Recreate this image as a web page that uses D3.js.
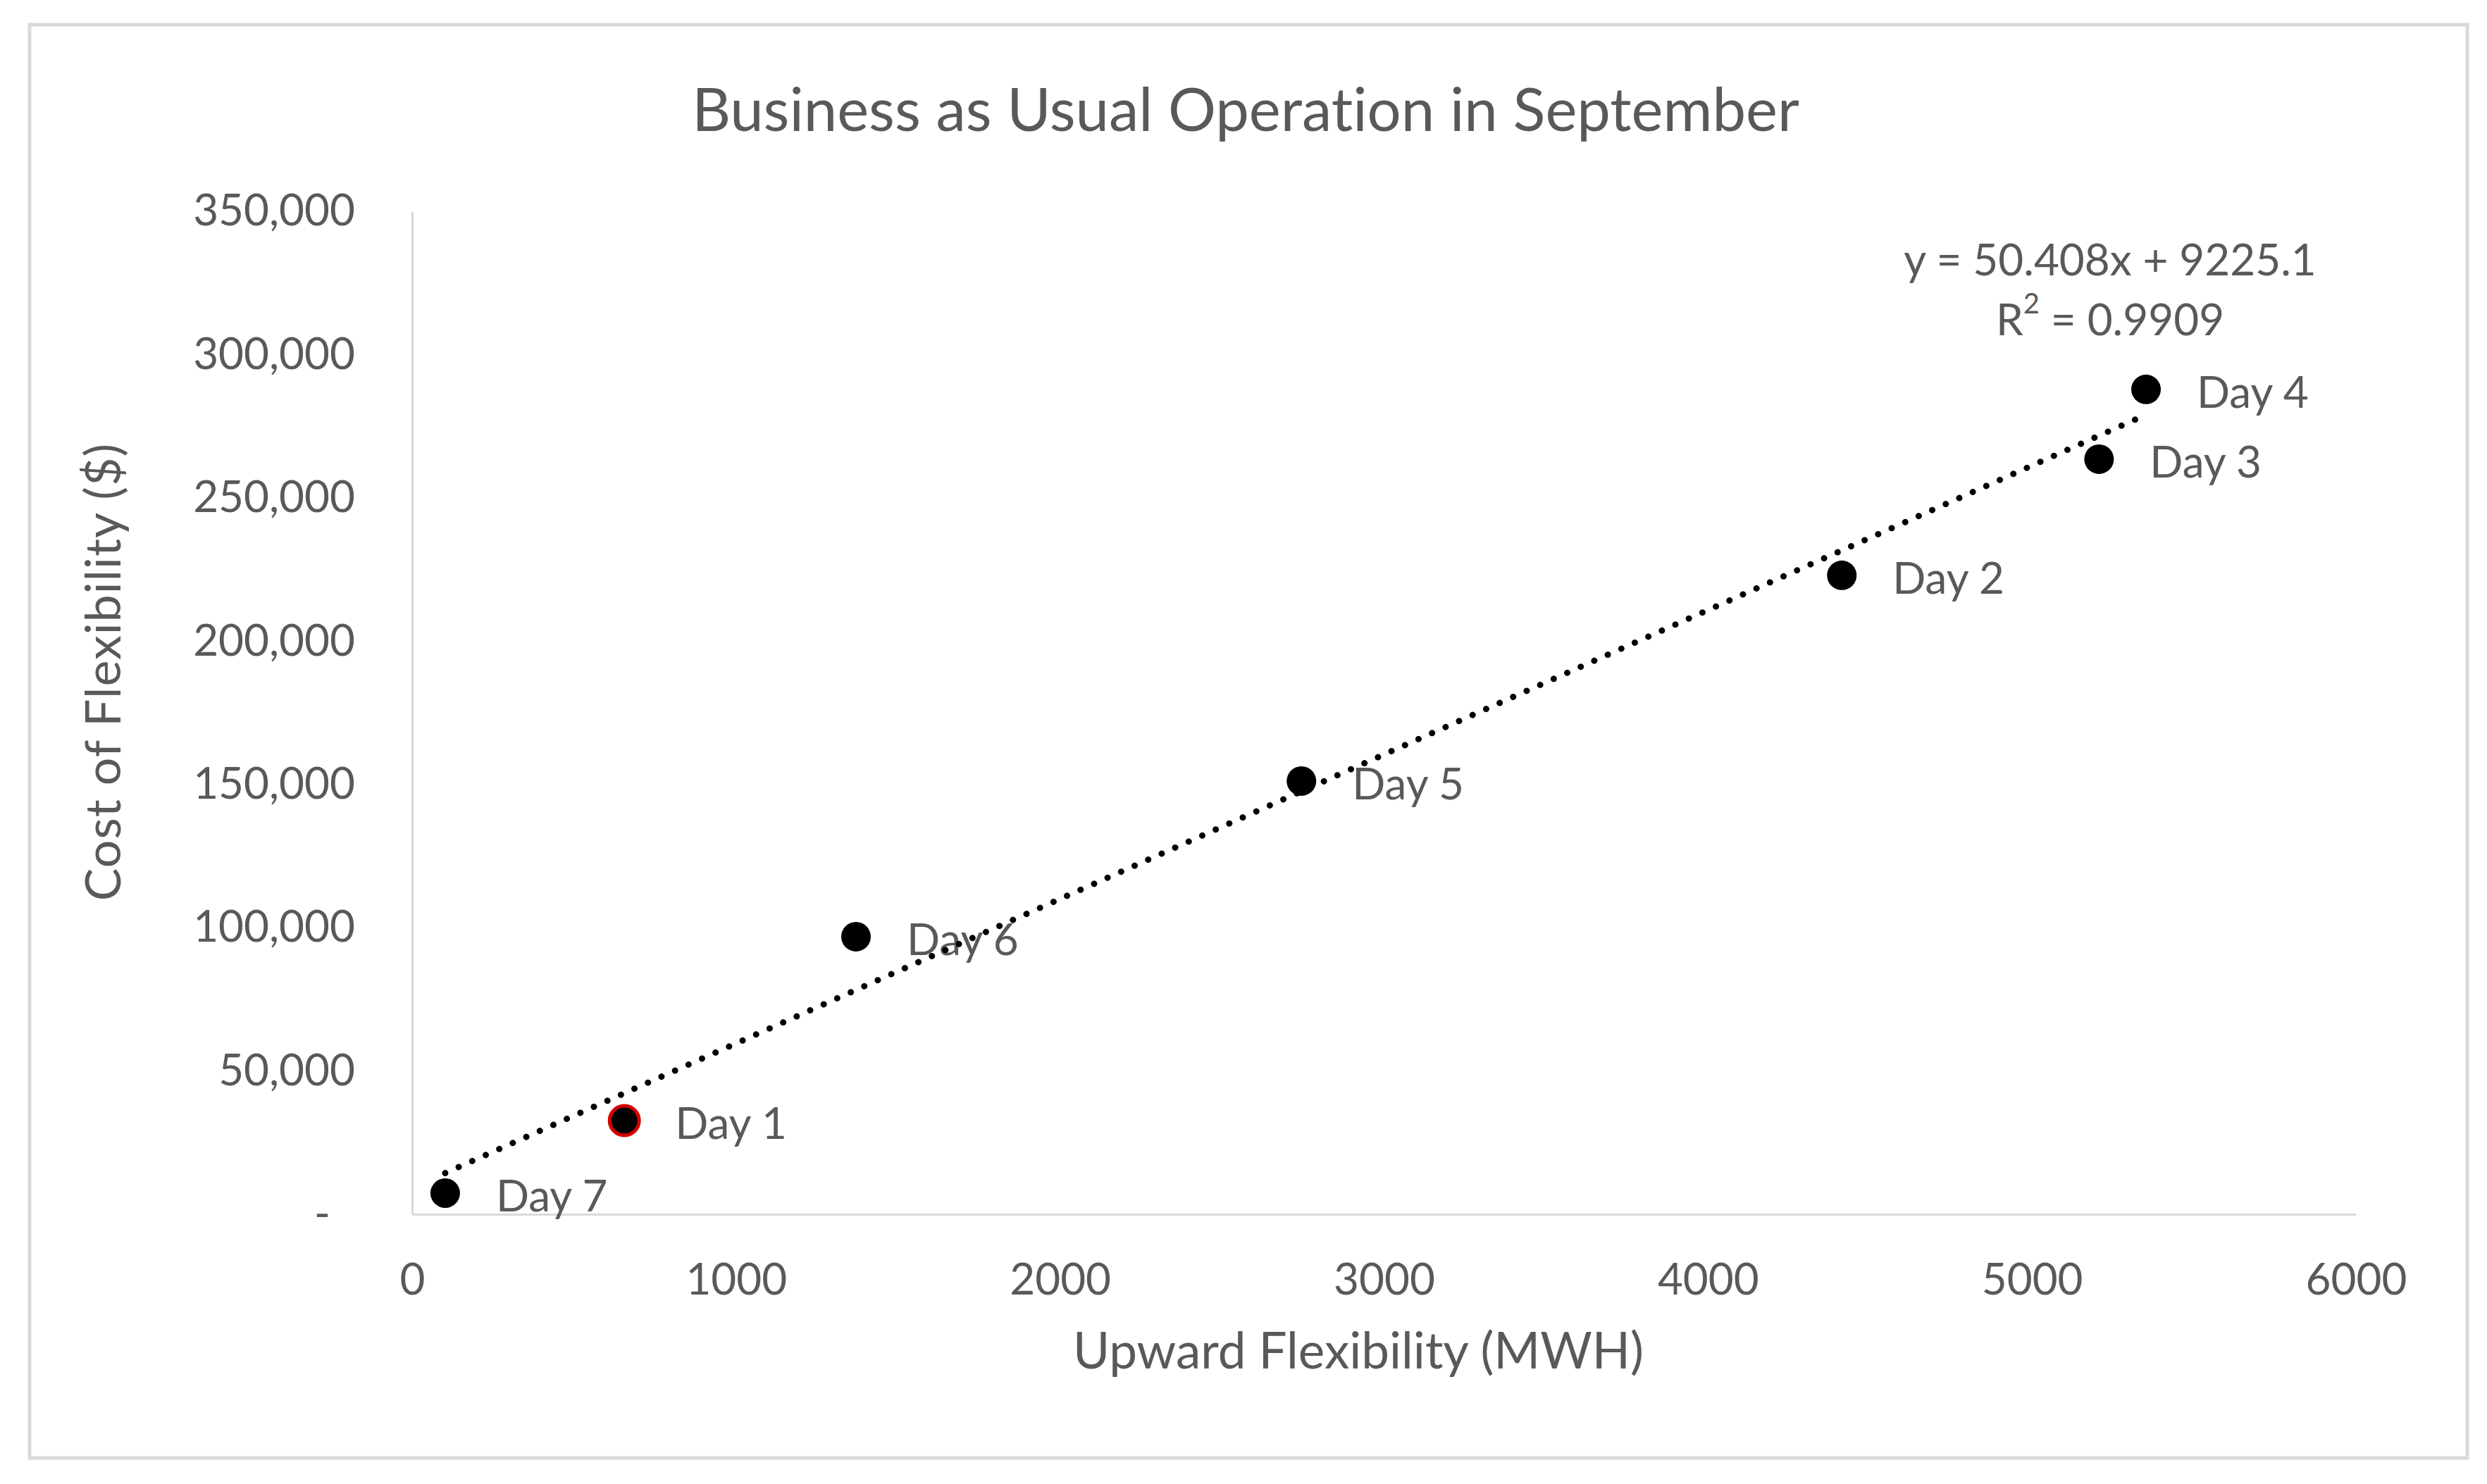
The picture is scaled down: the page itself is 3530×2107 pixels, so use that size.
<!DOCTYPE html>
<html>
<head>
<meta charset="utf-8">
<script src="https://cdn.jsdelivr.net/npm/d3@7"></script>
<style>
  html, body { margin: 0; padding: 0; background: #ffffff; }
  svg { display: block; }
  text { font-family: Lato, "Open Sans", sans-serif; fill: #595959; font-variant-ligatures: none; font-feature-settings: "liga" 0; }
</style>
</head>
<body>
<script>
// ---- Data ----
const dayLabels = ["Day 1", "Day 2", "Day 3", "Day 4", "Day 5", "Day 6", "Day 7"];
const upwardFlex = [655, 4413, 5207, 5352, 2745, 1370, 102];          // MWH
const costFlex   = [32690, 222960, 263500, 287860, 151180, 96850, 7375]; // $
const highlighted = ["Day 1"];

const xTicks = [0, 1000, 2000, 3000, 4000, 5000, 6000];
const yTicks = [0, 50000, 100000, 150000, 200000, 250000, 300000, 350000];
const yTickLabels = ["-", "50,000", "100,000", "150,000", "200,000", "250,000", "300,000", "350,000"];

const trendSlope = 50.408;
const trendIntercept = 9225.1;
const trendEquation = "y = 50.408x + 9225.1";
const trendR2 = "0.9909";

const chartTitle = "Business as Usual Operation in September";
const xTitle = "Upward Flexibility (MWH)";
const yTitle = "Cost of Flexibility ($)";

// ---- Layout ----
const W = 3530, H = 2107;
const plot = { left: 585, right: 3344, top: 300, bottom: 1724 };

const svg = d3.select("body").append("svg")
  .attr("width", W).attr("height", H);

svg.append("rect").attr("width", W).attr("height", H).attr("fill", "#ffffff");

// chart border
svg.append("rect")
  .attr("x", 42).attr("y", 35).attr("width", 3460).attr("height", 2035)
  .attr("fill", "none").attr("stroke", "#d9d9d9").attr("stroke-width", 5);

const x = d3.scaleLinear().domain([0, 6000]).range([plot.left, plot.right]);
const y = d3.scaleLinear().domain([0, 350000]).range([plot.bottom, plot.top]);

// title
svg.append("text")
  .attr("x", 1768).attr("y", 153)
  .attr("text-anchor", "middle").attr("dominant-baseline", "central")
  .style("font-size", "85px")
  .text(chartTitle);

// x axis
const xAxis = svg.append("g")
  .attr("transform", `translate(0,${plot.bottom})`)
  .call(d3.axisBottom(x).tickValues(xTicks).tickSize(0).tickSizeOuter(0).tickPadding(70)
        .tickFormat(d3.format("d")));
xAxis.select(".domain").attr("stroke", "#d9d9d9").attr("stroke-width", 3);
xAxis.selectAll("text").style("font-size", "62px").attr("fill", "#595959").attr("font-family", null);

// y axis
const yAxis = svg.append("g")
  .attr("transform", `translate(${plot.left},0)`)
  .call(d3.axisLeft(y).tickValues(yTicks).tickSize(0).tickSizeOuter(0).tickPadding(81)
        .tickFormat((d, i) => yTickLabels[i]));
yAxis.select(".domain").attr("stroke", "#d9d9d9").attr("stroke-width", 3);
yAxis.selectAll("text").style("font-size", "62px").attr("fill", "#595959").attr("font-family", null);
yAxis.selectAll(".tick").filter(d => d === 0).select("text").attr("x", -116);

// axis titles
svg.append("text")
  .attr("x", 1928).attr("y", 1915)
  .attr("text-anchor", "middle").attr("dominant-baseline", "central")
  .style("font-size", "71px")
  .text(xTitle);

svg.append("text")
  .attr("transform", `translate(144,954) rotate(-90)`)
  .attr("text-anchor", "middle").attr("dominant-baseline", "central")
  .style("font-size", "70px")
  .style("letter-spacing", "1px")
  .text(yTitle);

// points
const pts = dayLabels.map((d, i) => ({ label: d, x: upwardFlex[i], y: costFlex[i] }));

svg.append("g").selectAll("circle").data(pts).join("circle")
  .attr("cx", d => x(d.x)).attr("cy", d => y(d.y)).attr("r", 21)
  .attr("fill", "#000000")
  .attr("stroke", d => highlighted.includes(d.label) ? "#d40000" : "none")
  .attr("stroke-width", 5);

svg.append("g").selectAll("text").data(pts).join("text")
  .attr("x", d => x(d.x) + 72).attr("y", d => y(d.y) + 2)
  .attr("dominant-baseline", "central")
  .style("font-size", "62px")
  .text(d => d.label);

// trendline
const xMin = d3.min(upwardFlex), xMax = d3.max(upwardFlex);
const trendPts = [xMin, xMax].map(v => [v, trendSlope * v + trendIntercept]);
svg.append("path")
  .datum(trendPts)
  .attr("d", d3.line().x(d => x(d[0])).y(d => y(d[1])))
  .attr("fill", "none").attr("stroke", "#000000")
  .attr("stroke-width", 9).attr("stroke-linecap", "round")
  .attr("stroke-dasharray", "0.01 21");

// trendline label
svg.append("text")
  .attr("x", 2995).attr("y", 367)
  .attr("text-anchor", "middle").attr("dominant-baseline", "central")
  .style("font-size", "62px")
  .text(trendEquation);

const r2 = svg.append("text")
  .attr("x", 2995).attr("y", 452)
  .attr("text-anchor", "middle").attr("dominant-baseline", "central")
  .style("font-size", "62px");
r2.append("tspan").text("R");
r2.append("tspan").text("2").style("font-size", "40px").attr("dy", -22);
r2.append("tspan").text(" = " + trendR2).attr("dy", 22);
</script>
</body>
</html>
